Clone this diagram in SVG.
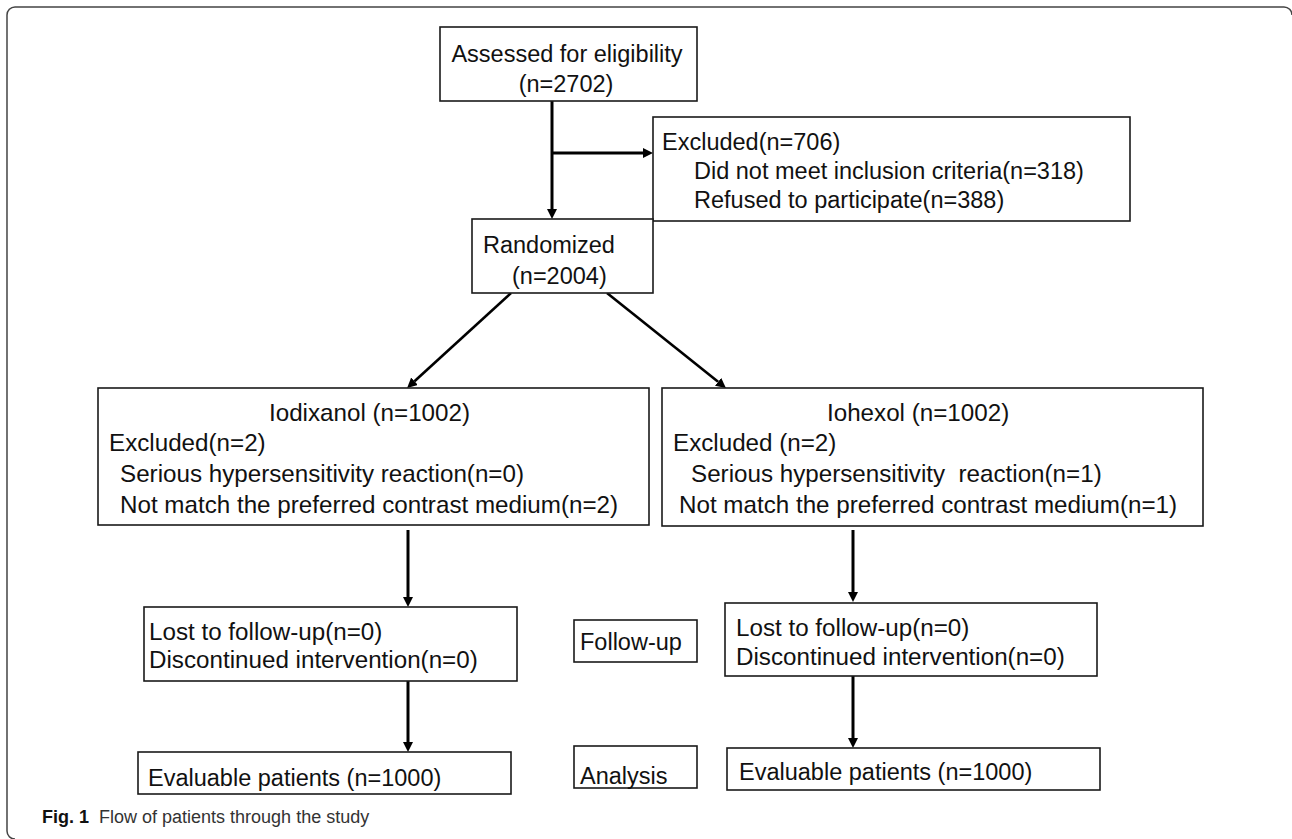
<svg xmlns="http://www.w3.org/2000/svg" width="1292" height="839" viewBox="0 0 1292 839">
  <style>
    .box { fill: #ffffff; stroke: #1a1a1a; stroke-width: 1.6; }
    .t { font-family: "Liberation Sans", Arial, sans-serif; font-size: 23.5px; fill: #111111; }
    .t2 { font-family: "Liberation Sans", Arial, sans-serif; font-size: 24.2px; fill: #111111; }
    .mid { text-anchor: middle; }
    .conn { stroke: #000000; stroke-width: 3; fill: none; }
    .diag { stroke: #000000; stroke-width: 2.6; fill: none; }
    .cap { font-family: "Liberation Sans", Arial, sans-serif; font-size: 18px; fill: #333333; }
    .capb { font-weight: bold; fill: #111111; }
    .frame { fill: none; stroke: #444444; stroke-width: 1.5; }
  </style>
  <defs>
    <marker id="ah" markerUnits="userSpaceOnUse" markerWidth="12" markerHeight="12" refX="0" refY="5" orient="auto">
      <path d="M0,0 L10,5 L0,10 z" fill="#000000"/>
    </marker>
  </defs>
  <rect width="1292" height="839" fill="#ffffff"/>
  <path class="frame" d="M15,839 A8,8 0 0 1 7,831 V15 A8,8 0 0 1 15,7 H1284 A8,8 0 0 1 1292,15"/>

  <g id="connectors">
    <line class="conn" x1="552" y1="101" x2="552" y2="209" marker-end="url(#ah)"/>
    <line class="conn" x1="552" y1="153" x2="643" y2="153" marker-end="url(#ah)"/>
    <line class="diag" x1="511" y1="293" x2="414.5" y2="381.3" marker-end="url(#ah)"/>
    <line class="diag" x1="607" y1="293" x2="718.1" y2="381.8" marker-end="url(#ah)"/>
    <line class="conn" x1="408" y1="530" x2="408" y2="597" marker-end="url(#ah)"/>
    <line class="conn" x1="853" y1="530" x2="853" y2="592" marker-end="url(#ah)"/>
    <line class="conn" x1="408" y1="672" x2="408" y2="742" marker-end="url(#ah)"/>
    <line class="conn" x1="853" y1="672" x2="853" y2="738" marker-end="url(#ah)"/>
  </g>

  <g id="assessed">
    <rect class="box" x="440" y="27" width="257" height="74"/>
    <text class="t mid" x="567" y="62">Assessed for eligibility</text>
    <text class="t mid" x="566" y="92">(n=2702)</text>
  </g>

  <g id="excluded">
    <rect class="box" x="653" y="117" width="477" height="104"/>
    <text class="t" x="662" y="150">Excluded(n=706)</text>
    <text class="t" x="694" y="179">Did not meet inclusion criteria(n=318)</text>
    <text class="t" x="694" y="208">Refused to participate(n=388)</text>
  </g>

  <g id="randomized">
    <rect class="box" x="472" y="219" width="181" height="74"/>
    <text class="t" x="483" y="253">Randomized</text>
    <text class="t" x="512" y="284">(n=2004)</text>
  </g>

  <g id="iodixanol">
    <rect class="box" x="98" y="388" width="551" height="137"/>
    <text class="t2" x="269" y="421">Iodixanol (n=1002)</text>
    <text class="t2" x="109" y="451">Excluded(n=2)</text>
    <text class="t2" x="120" y="482">Serious hypersensitivity reaction(n=0)</text>
    <text class="t2" x="120" y="513">Not match the preferred contrast medium(n=2)</text>
  </g>

  <g id="iohexol">
    <rect class="box" x="662" y="388" width="541" height="138"/>
    <text class="t2" x="827" y="421">Iohexol (n=1002)</text>
    <text class="t2" x="673" y="451">Excluded (n=2)</text>
    <text class="t2" x="691" y="482" xml:space="preserve">Serious hypersensitivity  reaction(n=1)</text>
    <text class="t2" x="679" y="513">Not match the preferred contrast medium(n=1)</text>
  </g>

  <g id="lost-left">
    <rect class="box" x="144" y="607" width="373" height="74"/>
    <text class="t2" x="149" y="640">Lost to follow-up(n=0)</text>
    <text class="t2" x="149" y="668">Discontinued intervention(n=0)</text>
  </g>

  <g id="followup">
    <rect class="box" x="574" y="620" width="123" height="42"/>
    <text class="t" x="580" y="650">Follow-up</text>
  </g>

  <g id="lost-right">
    <rect class="box" x="725" y="603" width="372" height="73"/>
    <text class="t2" x="736" y="636">Lost to follow-up(n=0)</text>
    <text class="t2" x="736" y="665">Discontinued intervention(n=0)</text>
  </g>

  <g id="eval-left">
    <rect class="box" x="138" y="752" width="373" height="42"/>
    <text class="t" x="148" y="786">Evaluable patients (n=1000)</text>
  </g>

  <g id="analysis">
    <rect class="box" x="574" y="746" width="123" height="42"/>
    <text class="t" x="580" y="784">Analysis</text>
  </g>

  <g id="eval-right">
    <rect class="box" x="727" y="748" width="373" height="42"/>
    <text class="t" x="739" y="780">Evaluable patients (n=1000)</text>
  </g>

  <g id="caption">
    <text class="cap" x="42" y="823"><tspan class="capb">Fig. 1</tspan><tspan dx="10">Flow of patients through the study</tspan></text>
  </g>
</svg>
